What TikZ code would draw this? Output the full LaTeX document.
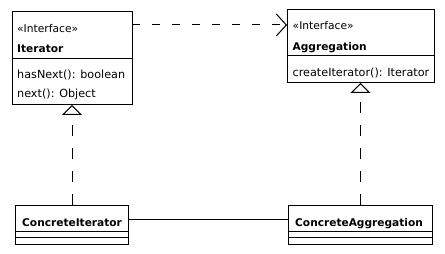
\documentclass[tikz,border=0pt]{standalone}
\usepackage{fontspec}
\setmainfont{DejaVu Sans}
\usetikzlibrary{arrows.meta}
\tikzset{
  umlbox/.style={draw, rectangle, line width=1pt, inner sep=0pt, outer sep=0pt, anchor=north west},
  lbl/.style={anchor=base west, inner sep=0pt, font=\fontsize{10.7}{12}\selectfont},
  blbl/.style={anchor=base west, inner sep=0pt, font=\fontsize{10.6}{12}\selectfont\bfseries},
  oplbl/.style={anchor=base west, inner sep=0pt, font=\fontsize{11.2}{13}\selectfont},
  sep/.style={line width=1pt},
  dep/.style={line width=1pt, dash pattern=on 8pt off 12pt, -{Straight Barb[length=10pt,width=22pt,line width=1pt]}},
  real/.style={line width=1pt, dash pattern=on 11pt off 12pt, -{Triangle[open,length=10pt,width=20pt,line width=1pt]}},
  assoc/.style={line width=1pt}
}
\begin{document}
\begin{tikzpicture}[x=1pt,y=-1pt]
\useasboundingbox (0,0) rectangle (445,254);
% Iterator
\node[umlbox, minimum width=120pt, minimum height=93pt] (it) at (12,12) {};
\draw[sep] (it.west |- 0,59) -- (it.east |- 0,59);
\node[lbl] (it1) at (17,33) {«Interface»};
\node[blbl] (it2) at (17,53) {Iterator};
\node[oplbl] (it3) at (17,79) {hasNext(): boolean};
\node[oplbl] (it4) at (17,98) {next(): Object};
% Aggregation
\node[umlbox, minimum width=147pt, minimum height=73pt] (ag) at (287,10) {};
\draw[sep] (ag.west |- 0,56) -- (ag.east |- 0,56);
\node[lbl] (ag1) at (292.5,30) {«Interface»};
\node[blbl] (ag2) at (292.5,50.5) {Aggregation};
\node[oplbl] (ag3) at (292.5,76.5) {createIterator(): Iterator};
% ConcreteIterator
\node[umlbox, minimum width=113pt, minimum height=39pt] (ci) at (15.5,205) {};
\draw[sep] (ci.west |- 0,231.5) -- (ci.east |- 0,231.5);
\draw[sep] (ci.west |- 0,237.5) -- (ci.east |- 0,237.5);
\node[blbl] (ci1) at (22,226) {ConcreteIterator};
% ConcreteAggregation
\node[umlbox, minimum width=144pt, minimum height=39pt] (ca) at (288.5,205) {};
\draw[sep] (ca.west |- 0,231.5) -- (ca.east |- 0,231.5);
\draw[sep] (ca.west |- 0,237.5) -- (ca.east |- 0,237.5);
\node[blbl] (ca1) at (295,226) {ConcreteAggregation};
% connectors
\draw[dep] (it.east |- 0,25) -- (ag.west |- 0,25);
\draw[real] (ci.north) -- (ci.north |- it.south);
\draw[real] (ca.north) -- (ca.north |- ag.south);
\draw[assoc] (ci.east |- 0,219) -- (ca.west |- 0,219);
\end{tikzpicture}
\end{document}
